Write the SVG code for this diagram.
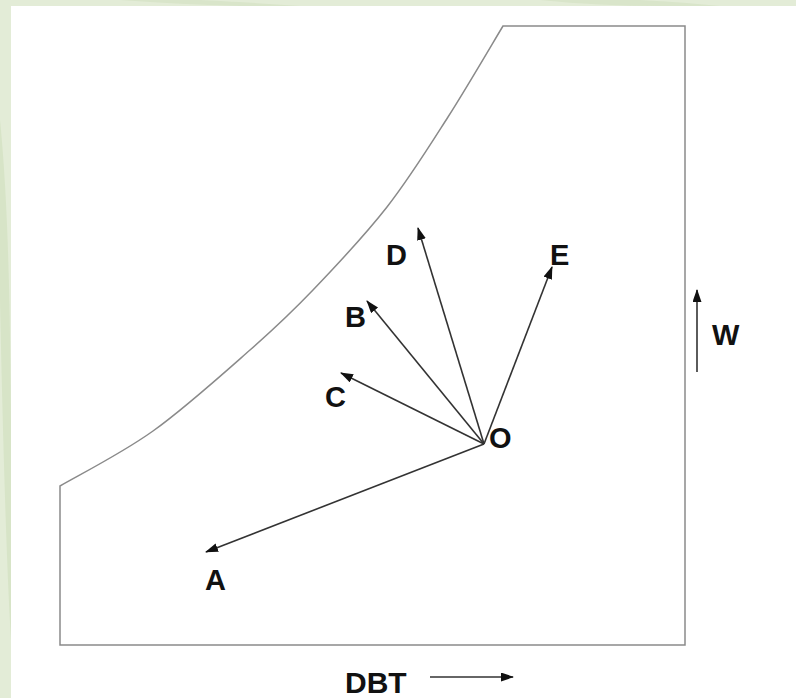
<svg xmlns="http://www.w3.org/2000/svg" width="796" height="698" viewBox="0 0 796 698">
<defs>
<style>
.lbl{font-family:"Liberation Sans",Arial,sans-serif;font-weight:bold;font-size:29px;fill:#111}
.arr{stroke:#333;stroke-width:1.6;fill:none;marker-end:url(#ah)}
.outline{stroke:#8a8a8a;stroke-width:1.5;fill:none}
</style>
<marker id="ah" markerUnits="userSpaceOnUse" markerWidth="13" markerHeight="10" refX="12" refY="4.5" orient="auto">
<path d="M0,0 L13,4.5 L0,9 Z" fill="#111"/>
</marker>
</defs>
<rect x="0" y="0" width="796" height="698" fill="#e3ecd7"/>
<path d="M0,120 C8,200 10,300 11,420 L11,640 C6,560 2,400 0,300 Z" fill="#d7e4c7"/>
<path d="M120,0 C160,3 200,5 240,6 L300,6 C260,3 220,1 200,0 Z" fill="#d9e5ca"/>
<path d="M540,0 C580,4 620,6 660,6 L720,6 C690,3 660,1 640,0 Z" fill="#d9e5ca"/>
<rect x="11" y="6" width="785" height="692" fill="#ffffff"/>
<g id="chart">
<path class="outline" d="M60,645 L60,486 C75.5,476.8 121.3,453.7 153,431 C184.7,408.3 223.3,373.5 250,350 C276.7,326.5 290.2,313.8 313,290 C335.8,266.2 364.5,235.8 387,207 C409.5,178.2 428.7,147.2 448,117 C467.3,86.8 493.8,41.2 503,26 L685,26 L685,645 Z"/>
</g>
<g id="connectors">
<line class="arr" x1="484" y1="444" x2="206" y2="552"/>
<line class="arr" x1="484" y1="444" x2="341" y2="373"/>
<line class="arr" x1="484" y1="444" x2="367" y2="301"/>
<line class="arr" x1="484" y1="444" x2="418" y2="228"/>
<line class="arr" x1="484" y1="444" x2="552" y2="267"/>
<line class="arr" x1="697" y1="372" x2="697" y2="290"/>
<line class="arr" x1="430" y1="677" x2="513" y2="677"/>
</g>
<g id="O"><text class="lbl" x="489" y="448">O</text></g>
<g id="A"><text class="lbl" x="205" y="590">A</text></g>
<g id="B"><text class="lbl" x="345" y="327">B</text></g>
<g id="C"><text class="lbl" x="325" y="407">C</text></g>
<g id="D"><text class="lbl" x="386" y="265">D</text></g>
<g id="E"><text class="lbl" x="550" y="265">E</text></g>
<g id="W"><text class="lbl" x="712" y="345">W</text></g>
<g id="DBT"><text class="lbl" x="345" y="693" style="font-size:30px">DBT</text></g>
</svg>
